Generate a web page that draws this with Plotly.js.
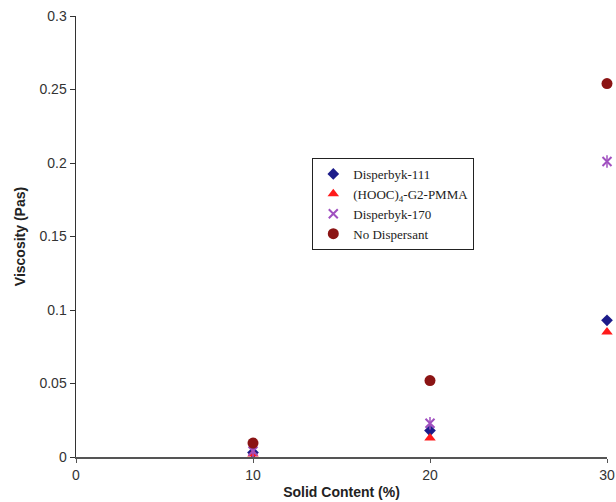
<!DOCTYPE html>
<html>
<head>
<meta charset="utf-8">
<script src="https://cdn.plot.ly/plotly-3.0.1.min.js"></script>
<style>body{margin:0;padding:0;background:#fff;} #chart{width:616px;height:502px;}</style>
</head>
<body>
<div id="chart"></div>
<script>
var solidContent = [10, 20, 30];
var disperbyk111 = [0.003, 0.018, 0.093];
var hoocPMMA = [0.002, 0.013, 0.085];
var disperbyk170 = [0.004, 0.023, 0.201];
var noDispersant = [0.0095, 0.052, 0.254];
var seriesNames = ['Disperbyk-111', '(HOOC)<sub>4</sub>-G2-PMMA', 'Disperbyk-170', 'No Dispersant'];

var traces = [
  {x: solidContent, y: disperbyk111, name: seriesNames[0], mode: 'markers', type: 'scatter',
   marker: {symbol: 'diamond', size: 9, color: '#1c1c8a'}, cliponaxis: false},
  {x: solidContent, y: hoocPMMA, name: seriesNames[1], mode: 'markers', type: 'scatter',
   marker: {symbol: 'triangle-up', size: 10, color: '#ff1a1a'}, cliponaxis: false},
  {x: solidContent, y: disperbyk170, name: seriesNames[2], mode: 'markers', type: 'scatter',
   marker: {symbol: 'x-thin-open', size: 9, color: '#a050c0', line: {width: 2, color: '#a050c0'}}, cliponaxis: false},
  {x: solidContent, y: disperbyk170, name: seriesNames[2], mode: 'markers', type: 'scatter', showlegend: false,
   marker: {symbol: 'line-ns-open', size: 9, color: '#a050c0', line: {width: 1.5, color: '#a050c0'}}, cliponaxis: false},
  {x: solidContent, y: noDispersant, name: seriesNames[3], mode: 'markers', type: 'scatter',
   marker: {symbol: 'circle', size: 11, color: '#8b1414'}, cliponaxis: false}
];

var layout = {
  width: 616, height: 502,
  margin: {l: 76, r: 9, t: 16, b: 45},
  paper_bgcolor: '#fff', plot_bgcolor: '#fff',
  showlegend: true,
  legend: {x: 0.445, y: 0.678, xanchor: 'left', yanchor: 'top',
    bordercolor: '#222', borderwidth: 1, bgcolor: '#fff',
    font: {family: 'Liberation Serif, Times New Roman, serif', size: 13, color: '#222'},
    tracegroupgap: 0, itemsizing: 'trace', itemwidth: 30},
  xaxis: {range: [0, 30], tickvals: [0, 10, 20, 30], ticktext: ['0', '10', '20', '30'],
    showgrid: false, zeroline: false, showline: true, linecolor: '#555', linewidth: 2,
    ticks: 'outside', ticklen: 4, tickcolor: '#555',
    tickfont: {family: 'Liberation Sans, Arial, sans-serif', size: 14, color: '#333'},
    title: {text: '<b>Solid Content (%)</b>', standoff: 5,
      font: {family: 'Liberation Sans, Arial, sans-serif', size: 14, color: '#222'}}},
  yaxis: {range: [0, 0.3], tickvals: [0, 0.05, 0.1, 0.15, 0.2, 0.25, 0.3],
    ticktext: ['0', '0.05', '0.1', '0.15', '0.2', '0.25', '0.3'],
    showgrid: false, zeroline: false, showline: true, linecolor: '#333', linewidth: 1.5,
    ticks: 'outside', ticklen: 5, tickcolor: '#333',
    tickfont: {family: 'Liberation Sans, Arial, sans-serif', size: 14, color: '#333'},
    title: {text: '<b>Viscosity (Pas)</b>', standoff: 10,
      font: {family: 'Liberation Sans, Arial, sans-serif', size: 14, color: '#222'}}}
};

Plotly.newPlot('chart', traces, layout, {displayModeBar: false, staticPlot: true});
</script>
</body>
</html>
